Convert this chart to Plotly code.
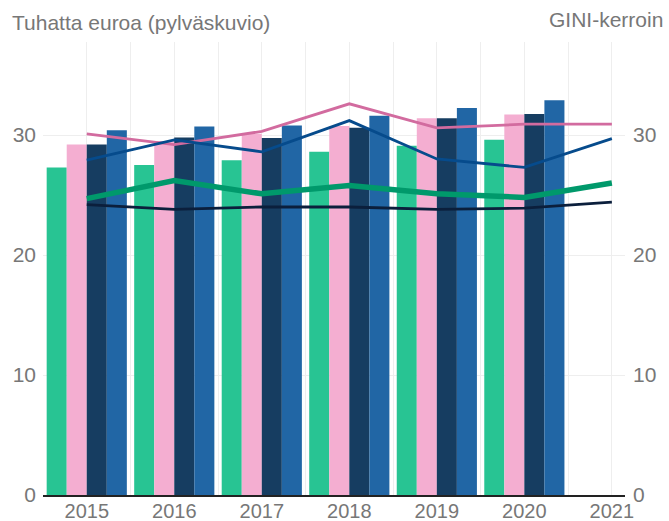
import plotly.graph_objects as go

# Bar data: thousands of euros per year (left axis)
bar_years = [2015, 2016, 2017, 2018, 2019, 2020]
bar_green = [27.3, 27.5, 27.9, 28.6, 29.1, 29.6]
bar_pink = [29.2, 29.5, 30.1, 30.75, 31.4, 31.7]
bar_navy = [29.2, 29.8, 29.75, 30.6, 31.4, 31.75]
bar_blue = [30.4, 30.7, 30.8, 31.6, 32.25, 32.9]

# Line data: GINI coefficient (right axis)
line_years = [2015, 2016, 2017, 2018, 2019, 2020, 2021]
gini_pink = [30.1, 29.2, 30.3, 32.6, 30.6, 30.9, 30.9]
gini_blue = [27.9, 29.6, 28.6, 31.2, 28.0, 27.3, 29.7]
gini_green = [24.7, 26.2, 25.1, 25.8, 25.1, 24.8, 26.0]
gini_dark = [24.2, 23.8, 24.0, 24.0, 23.8, 23.9, 24.4]

y_ticks = [0, 10, 20, 30]

grey = "#777777"
font_family = "Liberation Sans, Arial, sans-serif"
fsize = 21

fig = go.Figure()

bar_series = [
    (bar_green, "#28c493"),
    (bar_pink, "#f4aed1"),
    (bar_navy, "#163d61"),
    (bar_blue, "#2166a5"),
]
for vals, col in bar_series:
    fig.add_trace(go.Bar(x=bar_years, y=vals, marker=dict(color=col, line=dict(width=0)),
                         yaxis="y", showlegend=False, hoverinfo="skip"))

line_series = [
    (gini_pink, "#d26b9f", 2.8),
    (gini_blue, "#064b8c", 2.8),
    (gini_green, "#00996b", 5.5),
    (gini_dark, "#0b1f3c", 2.8),
]
for vals, col, w in line_series:
    fig.add_trace(go.Scatter(x=line_years, y=vals, mode="lines",
                             line=dict(color=col, width=w),
                             yaxis="y2", showlegend=False, hoverinfo="skip"))

# Gridlines every half year, labels only on whole years
grid_vals = []
grid_text = []
v = 2014.5
while v <= 2021.01:
    grid_vals.append(v)
    grid_text.append(str(int(v)) if float(v).is_integer() else "")
    v += 0.5

y_range = [0, 37.75]

fig.update_layout(
    width=669, height=521,
    margin=dict(l=43, r=44, t=42, b=26),
    paper_bgcolor="white", plot_bgcolor="white",
    barmode="group", bargap=0.084, bargroupgap=0,
    font=dict(family=font_family, color=grey, size=fsize),
    xaxis=dict(
        range=[2014.5, 2021.15], automargin=False,
        tickmode="array", tickvals=grid_vals, ticktext=grid_text,
        showgrid=True, gridcolor="#eeeeee", gridwidth=1,
        zeroline=False, showline=True, linecolor="#222222", linewidth=1.5,
        ticks="", tickfont=dict(size=20, color=grey), ticklabelstandoff=-3,
    ),
    yaxis=dict(
        range=y_range, tickvals=y_ticks, automargin=False,
        showgrid=True, gridcolor="#eeeeee", gridwidth=1,
        zeroline=False, showline=False, ticks="",
        tickfont=dict(size=fsize, color=grey), ticklabelstandoff=6,
    ),
    yaxis2=dict(
        range=y_range, tickvals=y_ticks, overlaying="y", side="right",
        automargin=False,
        showgrid=False, zeroline=False, showline=False, ticks="",
        tickfont=dict(size=fsize, color=grey), ticklabelstandoff=7,
    ),
    annotations=[
        dict(text="Tuhatta euroa (pylväskuvio)", xref="paper", yref="paper",
             x=-33 / 582, y=1 + 20 / 453, xanchor="left", yanchor="middle",
             showarrow=False, font=dict(size=fsize, color=grey)),
        dict(text="GINI-kerroin", xref="paper", yref="paper",
             x=1 + 40 / 582, y=1 + 22 / 453, xanchor="right", yanchor="middle",
             showarrow=False, font=dict(size=fsize, color=grey)),
    ],
)

fig.write_html("out.html")
